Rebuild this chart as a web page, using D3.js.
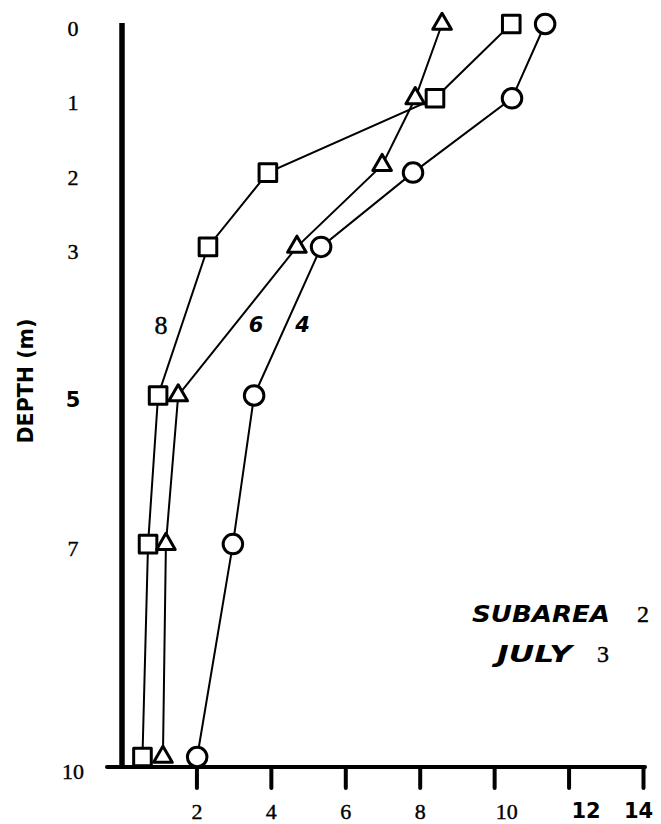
<!DOCTYPE html>
<html>
<head>
<meta charset="utf-8">
<script src="https://cdn.jsdelivr.net/npm/d3@7"></script>
<style>
body { margin: 0; background: #fff; }
svg { display: block; }
</style>
</head>
<body>
<svg></svg>
<script>
// sample depths (m) for each profile
const depths = [0, 1, 2, 3, 5, 7, 10];
const triangleDepths = [0, 1, 1.9, 3, 5, 7, 10];
// values
const squareValues = [10.46, 8.41, 3.92, 2.31, 0.97, 0.70, 0.55];
const triangleValues = [8.60, 7.88, 6.99, 4.70, 1.51, 1.18, 1.10];
const circleValues = [11.37, 10.48, 7.82, 5.35, 3.55, 2.98, 2.02];
// profile labels drawn beside the lines, with the value/depth where they sit
const profileLabels = ['8', '6', '4'];
const labelValues = [1.05, 3.6, 4.85];
const labelDepth = 4.05;
// axis ticks
const depthTicks = [0, 1, 2, 3, 5, 7, 10];
const valueTicks = [2, 4, 6, 8, 10, 12, 14];
// labels that were printed in a bold sans face on the original
const sansDepthTicks = [5];
const sansValueTicks = [12, 14];

// margins and the size of the SVG
const margin = {t: 24, r: 18, b: 57, l: 122};
const size = {w: 661, h: 824};
const svg = d3.select('svg')
    .attr('width', size.w)
    .attr('height', size.h);

const serif = '"Liberation Serif", "DejaVu Serif", serif';
const sans = '"DejaVu Sans", "Liberation Sans", sans-serif';

// scales
const x = d3.scaleLinear()
    .domain([0, 14])
    .range([margin.l, size.w - margin.r]);
const y = d3.scaleLinear()
    .domain([0, 10])
    .range([margin.t, size.h - margin.b]);

// markers at the bottom sit on top of the axis line
const markerY = (d) => Math.min(y(d), y(10) - 10);

// serif text on the scan looks a little heavy, thicken it slightly
function heavySerif (sel, fontSize) {
    sel.style('font-family', serif)
        .style('font-size', fontSize)
        .attr('stroke', '#000')
        .attr('stroke-width', 0.4);
}

// ---- axes ----
const xAxis = svg.append('g')
    .attr('transform', 'translate(0,' + y(10) + ')')
    .call(d3.axisBottom(x)
        .tickValues(valueTicks)
        .tickSize(21)
        .tickPadding(15)
        .tickFormat(d3.format('d')));
xAxis.select('.domain').remove();
xAxis.selectAll('.tick line')
    .attr('stroke', '#000')
    .attr('stroke-width', 4)
    .attr('stroke-linecap', 'round');
xAxis.selectAll('.tick text')
    .attr('fill', '#000')
    .attr('dx', (d) => d === 12 ? 17 : d === 10 ? 12 : d === 14 ? -5 : 0)
    .each(function (d) {
        let t = d3.select(this);
        if (sansValueTicks.includes(d)) {
            t.style('font-family', sans).style('font-weight', 'bold').style('font-size', '21px');
        } else {
            heavySerif(t, '22px');
        }
    });
xAxis.append('line')
    .attr('x1', x(0) - 15)
    .attr('x2', x(14) + 2)
    .attr('stroke', '#000')
    .attr('stroke-width', 4)
    .attr('stroke-linecap', 'round');

const yAxis = svg.append('g')
    .attr('transform', 'translate(' + x(0) + ',0)')
    .call(d3.axisLeft(y)
        .tickValues(depthTicks)
        .tickSize(0)
        .tickFormat(d3.format('d')));
yAxis.select('.domain').remove();
yAxis.selectAll('.tick text')
    .attr('fill', '#000')
    .attr('x', -49)
    .attr('dy', '0.52em')
    .attr('text-anchor', 'middle')
    .each(function (d) {
        let t = d3.select(this);
        if (sansDepthTicks.includes(d)) {
            t.style('font-family', sans).style('font-weight', 'bold').style('font-size', '21px');
        } else {
            heavySerif(t, '22px');
        }
    });
yAxis.append('line')
    .attr('y1', y(0) - 1)
    .attr('y2', y(10))
    .attr('stroke', '#000')
    .attr('stroke-width', 5.5);

// axis title
svg.append('text')
    .attr('transform', 'translate(33,381) rotate(-90)')
    .attr('text-anchor', 'middle')
    .attr('textLength', 125)
    .attr('lengthAdjust', 'spacingAndGlyphs')
    .style('font-family', sans)
    .style('font-weight', 'bold')
    .style('font-size', '21px')
    .text('DEPTH (m)');

// ---- profiles ----
const series = [
    {values: squareValues, depths: depths, symbol: d3.symbolSquare, area: 310},
    {values: triangleValues, depths: triangleDepths, symbol: d3.symbolTriangle, area: 150},
    {values: circleValues, depths: depths, symbol: d3.symbolCircle, area: 300}
].map((s) => ({...s, points: s.values.map((v, i) => ({v: v, d: s.depths[i]}))}));

const line = d3.line()
    .x((d) => x(d.v))
    .y((d) => markerY(d.d));

svg.append('g')
    .selectAll('path')
    .data(series)
    .enter()
    .append('path')
    .attr('d', (s) => line(s.points))
    .attr('fill', 'none')
    .attr('stroke', '#000')
    .attr('stroke-width', 2);

series.forEach(function (s) {
    svg.append('g')
        .selectAll('path')
        .data(s.points)
        .enter()
        .append('path')
        .attr('transform', (d) => 'translate(' + x(d.v) + ',' + markerY(d.d) + ')')
        .attr('d', d3.symbol(s.symbol, s.area))
        .attr('fill', '#fff')
        .attr('stroke', '#000')
        .attr('stroke-width', 3)
        .attr('stroke-linejoin', 'round');
});

// labels beside the profiles
svg.append('g')
    .selectAll('text')
    .data(profileLabels)
    .enter()
    .append('text')
    .attr('x', (d, i) => x(labelValues[i]))
    .attr('y', y(labelDepth))
    .attr('dy', '0.35em')
    .attr('text-anchor', 'middle')
    .each(function (d, i) {
        let t = d3.select(this);
        if (i === 0) {
            heavySerif(t, '26px');
        } else {
            t.style('font-family', sans).style('font-weight', 'bold')
                .style('font-style', 'italic').style('font-size', '21px');
        }
    })
    .text((d) => d);

// caption
const caption = svg.append('g');
caption.append('text')
    .attr('x', 472).attr('y', 622)
    .attr('textLength', 138)
    .attr('lengthAdjust', 'spacingAndGlyphs')
    .style('font-family', sans)
    .style('font-weight', 'bold')
    .style('font-style', 'italic')
    .style('font-size', '23px')
    .text('SUBAREA');
caption.append('text')
    .attr('x', 643).attr('y', 622)
    .attr('text-anchor', 'middle')
    .call(heavySerif, '24px')
    .text('2');
caption.append('text')
    .attr('x', 497).attr('y', 662)
    .attr('textLength', 75)
    .attr('lengthAdjust', 'spacingAndGlyphs')
    .style('font-family', sans)
    .style('font-weight', 'bold')
    .style('font-style', 'italic')
    .style('font-size', '23px')
    .text('JULY');
caption.append('text')
    .attr('x', 603).attr('y', 662)
    .attr('text-anchor', 'middle')
    .call(heavySerif, '24px')
    .text('3');
</script>
</body>
</html>
